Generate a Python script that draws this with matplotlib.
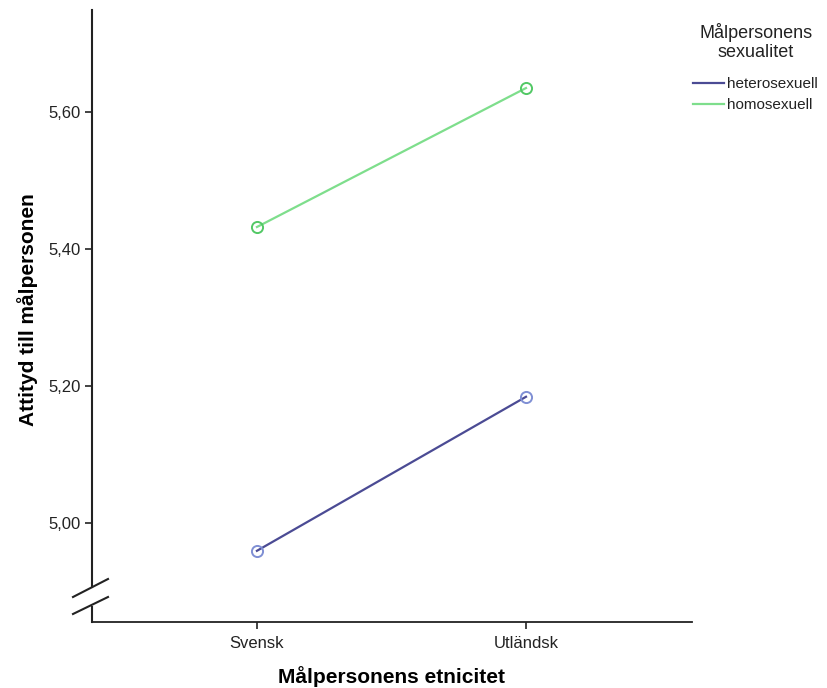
import numpy as np
import matplotlib
matplotlib.use('Agg')
import matplotlib.pyplot as plt
from matplotlib.lines import Line2D

plt.rcParams['font.family'] = ['Liberation Sans', 'DejaVu Sans']

# data
categories = ['Svensk', 'Utländsk']
hetero = [4.959, 5.184]
homo = [5.432, 5.635]
series_names = ['heterosexuell', 'homosexuell']
line_colors = ['#4b4b94', '#7ede8c']
marker_colors = ['#7f8fd4', '#52c865']
yticks = [5.00, 5.20, 5.40, 5.60]

ymin, ymax = 4.855, 5.749

fig = plt.figure(figsize=(8.27, 6.88), dpi=100)
ax = fig.add_axes([92/827, 1 - 622/688, 600/827, 612/688])

x = np.arange(len(categories))
for vals, lc, mc in zip([hetero, homo], line_colors, marker_colors):
    ax.plot(x, vals, color=lc, lw=1.6)
    ax.plot(x, vals, ls='none', marker='o', ms=8, mfc='none', mec=mc, mew=1.4)

ax.set_xlim(-0.613, 1.617)
ax.set_ylim(ymin, ymax)
ax.set_xticks(x)
ax.set_xticklabels(categories)
ax.set_yticks(yticks)
ax.set_yticklabels([('%.2f' % v).replace('.', ',') for v in yticks])
ax.tick_params(direction='out', length=5, width=1.2, labelsize=12, colors='#222222', pad=3)
ax.tick_params(axis='x', pad=5)

for s in ['top', 'right', 'left']:
    ax.spines[s].set_visible(False)
ax.spines['bottom'].set_linewidth(1.3)
ax.spines['bottom'].set_color('#222222')

# y axis line drawn by hand, with a break near the bottom
xa = ax.transAxes
ax.plot([0, 0], [(622 - 587) / 612, 1], transform=xa, color='#222222', lw=1.5, clip_on=False)
ax.plot([0, 0], [0, (622 - 607) / 612], transform=xa, color='#222222', lw=1.5, clip_on=False)
for py0, py1 in [(597, 579), (614, 597)]:
    ax.plot([(73 - 92) / 600, (108 - 92) / 600],
            [(622 - py0) / 612, (622 - py1) / 612],
            transform=xa, color='#222222', lw=1.5, clip_on=False)

# axis titles placed directly
fig.text(391/827, 1 - 677/688, 'Målpersonens etnicitet', ha='center', va='center',
         fontsize=15, fontweight='bold')
fig.text(28/827, 1 - 310/688, 'Attityd till målpersonen', ha='center', va='center',
         rotation=90, fontsize=15, fontweight='bold')

# legend: title as its own text, entries below
fig.text(756/827, 1 - 42/688, 'Målpersonens\nsexualitet', ha='center', va='center',
         fontsize=13, color='#222222', linespacing=1.15)
handles = [Line2D([], [], color=c, lw=1.6) for c in line_colors]
leg = fig.legend(handles, series_names, loc='upper left',
                 bbox_to_anchor=(693/827, 1 - 77/688),
                 frameon=False, fontsize=11, handlelength=2.0, handletextpad=0.2,
                 labelspacing=0.45, borderaxespad=0, borderpad=0)
for t in leg.get_texts():
    t.set_color('#222222')

fig.savefig('out.png', dpi=100)
